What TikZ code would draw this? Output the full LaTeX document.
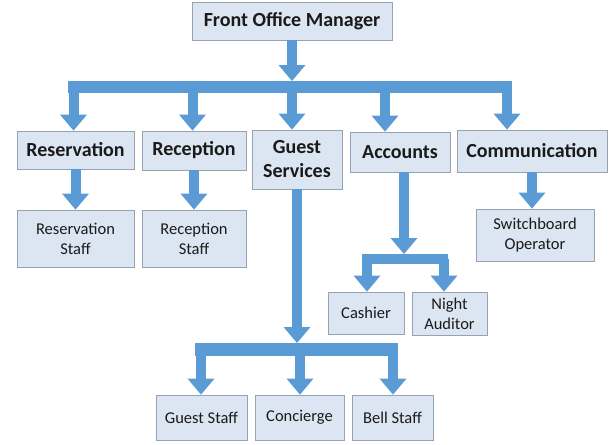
\documentclass[tikz,border=0pt]{standalone}
\usepackage{fontspec}
\setmainfont{Carlito}
\usetikzlibrary{arrows.meta}
\definecolor{boxfill}{HTML}{DCE6F2}
\definecolor{boxline}{HTML}{95A3B3}
\definecolor{flow}{HTML}{5B9BD5}
\definecolor{ink}{HTML}{1A1A1A}
\tikzset{
  every node/.style={text=ink},
  unit/.style={draw=boxline,fill=boxfill,align=center,inner sep=2pt,line width=0.8pt},
  headbox/.style={unit,font=\fontsize{20}{24}\selectfont\bfseries},
  staffbox/.style={unit,font=\fontsize{16.5}{20}\selectfont},
  flowarrow/.style={draw=flow,line width=10pt,-{Triangle[width=27pt,length=16pt,line width=0pt]}},
  flowbar/.style={draw=flow,line width=12pt},
}

\begin{document}
\begin{tikzpicture}[x=1pt,y=-1pt]
\useasboundingbox (0,0) rectangle (614,445);

% top level
\node[headbox,minimum width=200pt,minimum height=38pt] (fom) at (292,21) {Front Office Manager};

% departments
\node[headbox,minimum width=117pt,minimum height=38pt] (res) at (75.5,150) {Reservation};
\node[headbox,minimum width=104pt,minimum height=39pt] (rec) at (194,150.5) {Reception};
\node[headbox,minimum width=90pt,minimum height=59pt] (gs) at (297,159.5) {Guest\\Services};
\node[headbox,minimum width=100pt,minimum height=40pt] (acc) at (400,152) {Accounts};
\node[headbox,minimum width=150pt,minimum height=42pt] (com) at (532,151) {Communication};

% staff
\node[staffbox,minimum width=117pt,minimum height=57pt] (resstaff) at (75.5,238.5) {Reservation\\Staff};
\node[staffbox,minimum width=104pt,minimum height=57pt] (recstaff) at (194,238.5) {Reception\\Staff};
\node[staffbox,minimum width=118pt,minimum height=52pt] (switch) at (535,235) {Switchboard\\Operator};
\node[staffbox,minimum width=76pt,minimum height=42pt] (cashier) at (366,313) {Cashier};
\node[staffbox,minimum width=75pt,minimum height=43pt] (night) at (449.5,313.5) {Night\\Auditor};
\node[staffbox,minimum width=91pt,minimum height=45pt] (gstaff) at (201.5,417.5) {Guest Staff};
\node[staffbox,minimum width=89pt,minimum height=45pt] (conc) at (299.5,417.5) {Concierge};
\node[staffbox,minimum width=81pt,minimum height=45pt] (bell) at (392.5,417.5) {Bell Staff};

% main bar
\coordinate (topin) at (292,81);
\coordinate (topL) at (68,87);
\coordinate (topR) at (512,87);
\draw[flowarrow] (fom.south) -- (topin);
\draw[flowbar] (topL) -- (topR);
\coordinate (b-res) at (73.5,87);
\coordinate (b-rec) at (192.5,87);
\coordinate (b-gs) at (292,87);
\coordinate (b-acc) at (385,87);
\coordinate (b-com) at (507,87);
\foreach \n in {res,rec,gs,acc,com}
  \draw[flowarrow] (b-\n) -- (b-\n |- \n.north);

% single lines
\draw[flowarrow] (res.south) -- (resstaff.north);
\draw[flowarrow] (rec.south) -- (recstaff.north);
\draw[flowarrow] (com.south) -- (com.south |- switch.north);

% accounts split
\coordinate (accin) at (404,254);
\coordinate (accL) at (362,258.5);
\coordinate (accR) at (448,258.5);
\draw[flowarrow] (accin |- acc.south) -- (accin);
\draw[flowbar,line width=10pt] (accL) -- (accR);
\draw[flowarrow] (367,258.5) -- (367,258.5 |- cashier.north);
\draw[flowarrow] (444,258.5) -- (444,258.5 |- night.north);

% guest services split
\coordinate (gsin) at (297,343);
\coordinate (gsL) at (195,349.5);
\coordinate (gsR) at (398,349.5);
\draw[flowarrow] (gs.south) -- (gsin);
\draw[flowbar,line width=13pt] (gsL) -- (gsR);
\foreach \x/\n in {201/gstaff,300/conc,393/bell}
  \draw[flowarrow] (\x,349.5) -- (\x,349.5 |- \n.north);

\end{tikzpicture}
\end{document}
